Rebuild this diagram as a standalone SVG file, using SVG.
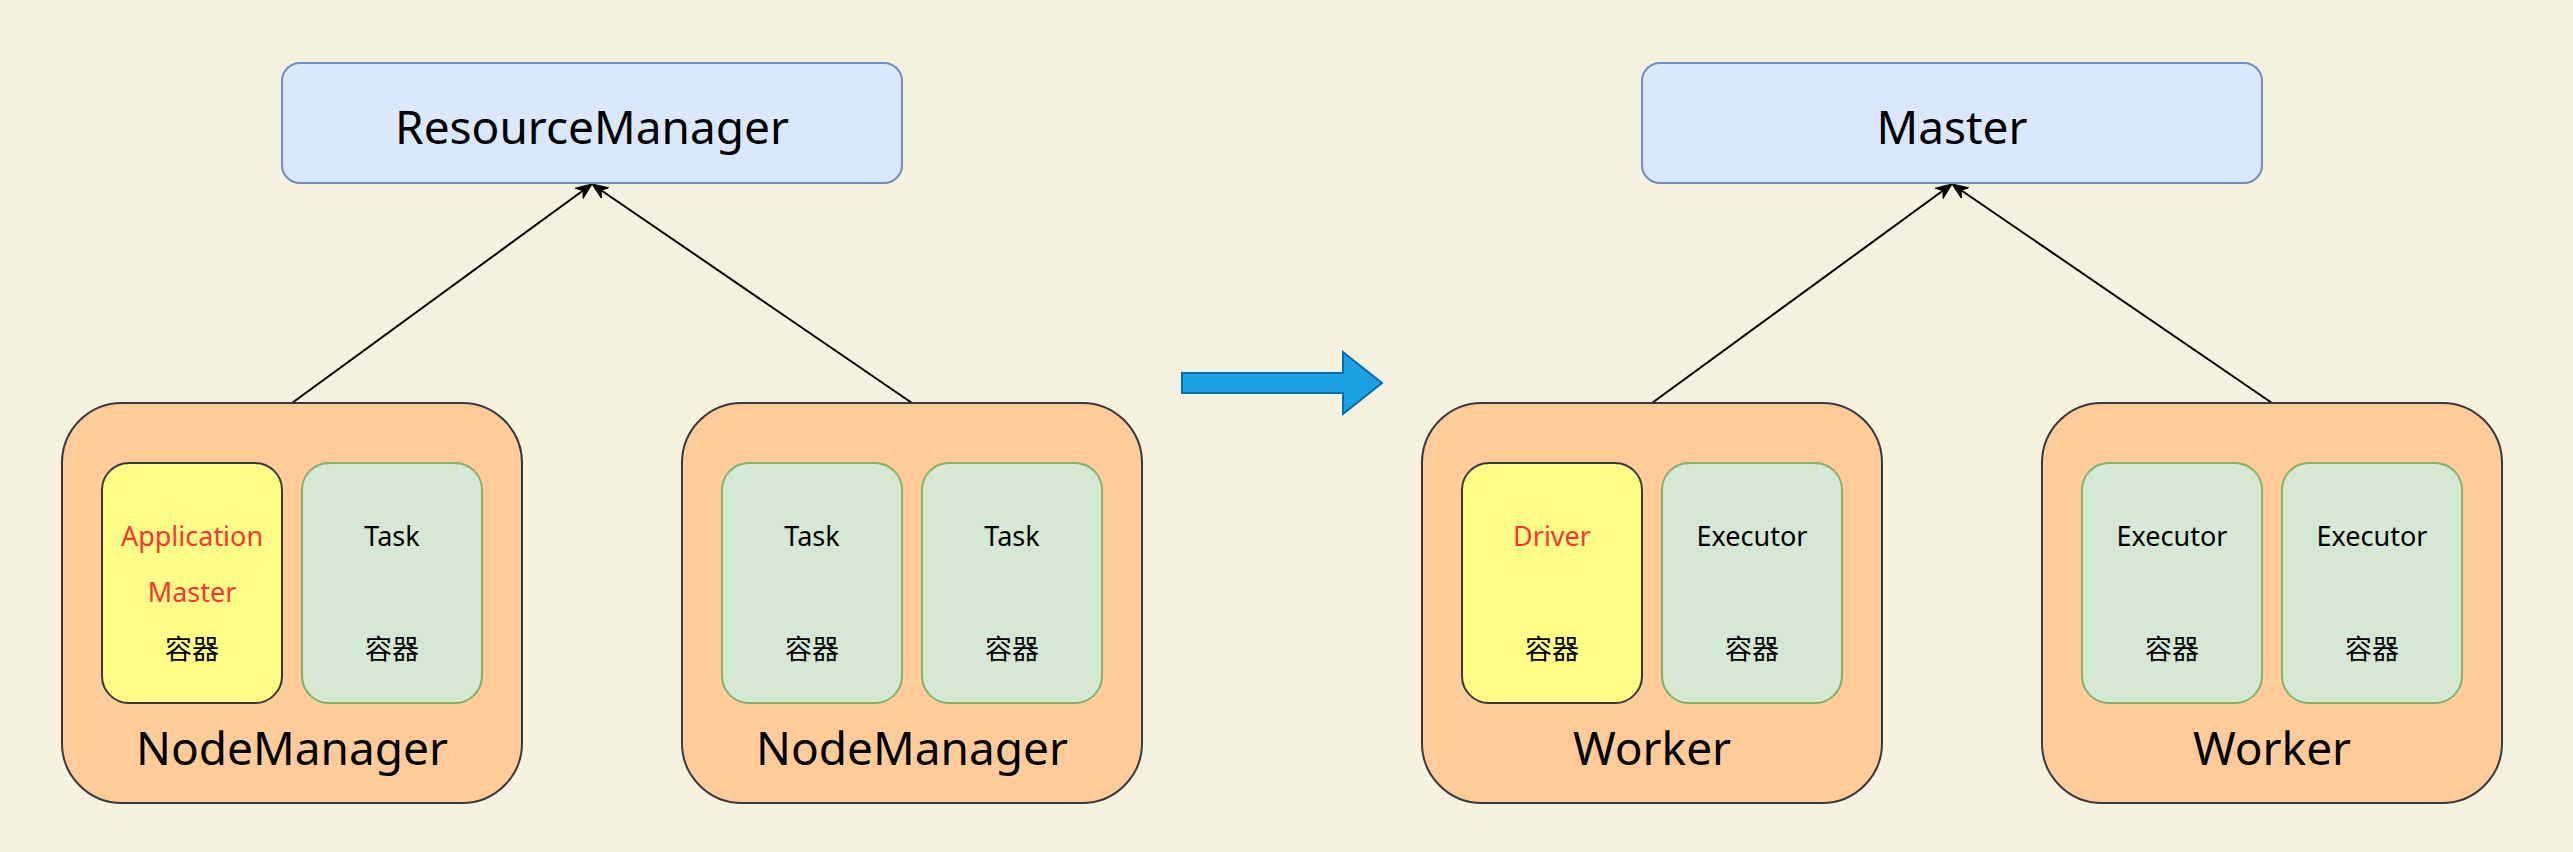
<svg xmlns="http://www.w3.org/2000/svg" width="2573" height="852" viewBox="0 0 2573 852">
  <defs>
    <marker id="arrow" viewBox="-16 -7 18 14" refX="0" refY="0" markerWidth="18" markerHeight="14" markerUnits="userSpaceOnUse" orient="auto">
      <path d="M0,0 L-16,-6.5 L-11,0 L-16,6.5 Z" fill="#000" stroke="#000" stroke-width="1"/>
    </marker>
    <style>
      .top { fill: #dae8fc; stroke: #6c8ebf; stroke-width: 2; }
      .host { fill: #ffcc99; stroke: #36393d; stroke-width: 2; }
      .drv { fill: #ffff88; stroke: #36393d; stroke-width: 2; }
      .ctr { fill: #d5e8d4; stroke: #82b366; stroke-width: 2; }
      .big { font-family: "Comic Sans MS", "Noto Sans", "Noto Sans CJK SC", sans-serif; font-size: 46px; fill: #000; text-anchor: middle; }
      .sm { font-family: "Comic Sans MS", "Noto Sans", "Noto Sans CJK SC", sans-serif; font-size: 27px; fill: #000; text-anchor: middle; }
      .red { fill: #ff3333; }
      .cjk { font-family: "Noto Sans CJK SC", sans-serif; font-size: 27px; fill: #000; text-anchor: middle; }
      .edge { stroke: #000; stroke-width: 2; fill: none; }
    </style>
  </defs>
  <rect x="0" y="0" width="2573" height="852" fill="#f4f1de"/>

  <g id="connectors">
    <line class="edge" x1="292" y1="403" x2="592" y2="184" marker-end="url(#arrow)"/>
    <line class="edge" x1="912" y1="403" x2="592" y2="184" marker-end="url(#arrow)"/>
    <line class="edge" x1="1652" y1="403" x2="1952" y2="184" marker-end="url(#arrow)"/>
    <line class="edge" x1="2272" y1="403" x2="1952" y2="184" marker-end="url(#arrow)"/>
  </g>

  <g id="resourcemanager">
    <rect class="top" x="282" y="63" width="620" height="120" rx="18" ry="18"/>
    <text class="big" x="592" y="144">ResourceManager</text>
  </g>
  <g id="master">
    <rect class="top" x="1642" y="63" width="620" height="120" rx="18" ry="18"/>
    <text class="big" x="1952" y="144">Master</text>
  </g>

  <g id="nodemanager1">
    <rect class="host" x="62" y="403" width="460" height="400" rx="60" ry="60"/>
    <text class="big" x="292" y="765">NodeManager</text>
  </g>
  <g id="appmaster">
    <rect class="drv" x="102" y="463" width="180" height="240" rx="27" ry="27"/>
    <text class="sm red" x="192" y="546">Application</text>
    <text class="sm red" x="192" y="602">Master</text>
    <text class="cjk" x="192" y="659">容器</text>
  </g>
  <g id="task1">
    <rect class="ctr" x="302" y="463" width="180" height="240" rx="27" ry="27"/>
    <text class="sm" x="392" y="546">Task</text>
    <text class="cjk" x="392" y="659">容器</text>
  </g>

  <g id="nodemanager2">
    <rect class="host" x="682" y="403" width="460" height="400" rx="60" ry="60"/>
    <text class="big" x="912" y="765">NodeManager</text>
  </g>
  <g id="task2">
    <rect class="ctr" x="722" y="463" width="180" height="240" rx="27" ry="27"/>
    <text class="sm" x="812" y="546">Task</text>
    <text class="cjk" x="812" y="659">容器</text>
  </g>
  <g id="task3">
    <rect class="ctr" x="922" y="463" width="180" height="240" rx="27" ry="27"/>
    <text class="sm" x="1012" y="546">Task</text>
    <text class="cjk" x="1012" y="659">容器</text>
  </g>

  <g id="transition-arrow">
    <polygon points="1182,373 1343,373 1343,352 1382,383 1343,414 1343,393 1182,393" fill="#1ba1e2" stroke="#006eaf" stroke-width="2"/>
  </g>

  <g id="worker1">
    <rect class="host" x="1422" y="403" width="460" height="400" rx="60" ry="60"/>
    <text class="big" x="1652" y="765">Worker</text>
  </g>
  <g id="driver">
    <rect class="drv" x="1462" y="463" width="180" height="240" rx="27" ry="27"/>
    <text class="sm red" x="1552" y="546">Driver</text>
    <text class="cjk" x="1552" y="659">容器</text>
  </g>
  <g id="executor1">
    <rect class="ctr" x="1662" y="463" width="180" height="240" rx="27" ry="27"/>
    <text class="sm" x="1752" y="546">Executor</text>
    <text class="cjk" x="1752" y="659">容器</text>
  </g>

  <g id="worker2">
    <rect class="host" x="2042" y="403" width="460" height="400" rx="60" ry="60"/>
    <text class="big" x="2272" y="765">Worker</text>
  </g>
  <g id="executor2">
    <rect class="ctr" x="2082" y="463" width="180" height="240" rx="27" ry="27"/>
    <text class="sm" x="2172" y="546">Executor</text>
    <text class="cjk" x="2172" y="659">容器</text>
  </g>
  <g id="executor3">
    <rect class="ctr" x="2282" y="463" width="180" height="240" rx="27" ry="27"/>
    <text class="sm" x="2372" y="546">Executor</text>
    <text class="cjk" x="2372" y="659">容器</text>
  </g>
</svg>
